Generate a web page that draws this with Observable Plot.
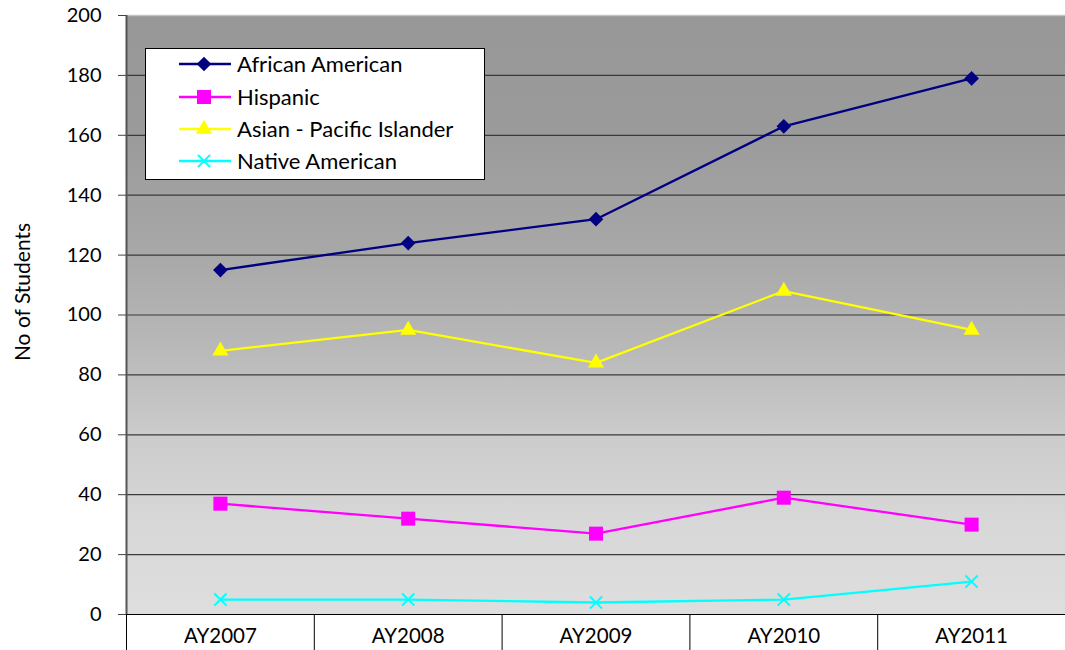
<!DOCTYPE html>
<html>
<head>
<meta charset="utf-8">
<script src="https://cdn.jsdelivr.net/npm/d3@7"></script>
<script src="https://cdn.jsdelivr.net/npm/@observablehq/plot@0.6"></script>
<style>
  body { margin: 0; background: #fff; font-family: Lato, "Open Sans", sans-serif; }
  #wrap { position: relative; width: 1065px; height: 650px; overflow: hidden; }
  #ylabel { position: absolute; left: 21px; top: 292px; width: 300px; text-align: center;
            transform: translate(-50%, -50%) rotate(-90deg); font-size: 21px; color: #000; line-height: 1; }
  #legend { position: absolute; left: 145px; top: 48px; width: 338px; height: 130px;
            background: #fff; border: 1px solid #000; }
  .row { position: absolute; left: 0; height: 24px; display: flex; align-items: center; }
  .row span { font-size: 22px; color: #000; line-height: 1; }
</style>
</head>
<body>
<div id="wrap"></div>
<script>
const categories = ["AY2007", "AY2008", "AY2009", "AY2010", "AY2011"];
const seriesNames = ["African American", "Hispanic", "Asian - Pacific Islander", "Native American"];
const africanAmerican = [115, 124, 132, 163, 179];
const hispanic = [37, 32, 27, 39, 30];
const asianPacific = [88, 95, 84, 108, 95];
const nativeAmerican = [5, 5, 4, 5, 11];
const yTicks = [0, 20, 40, 60, 80, 100, 120, 140, 160, 180, 200];
const yLabel = "No of Students";

const seriesValues = [africanAmerican, hispanic, asianPacific, nativeAmerican];
const colors = ["#000080", "#FF00FF", "#FFFF00", "#00FFFF"];
const symbols = ["diamond2", "square", "triangle", "times"];
const radii = [6.6, 7.9, 6.0, 5.6];

const data = [];
seriesValues.forEach((vals, s) => vals.forEach((v, i) => data.push({series: seriesNames[s], s, i, value: v})));

const bounds = categories.map((_, i) => i - 0.5).concat([categories.length - 0.5]);

const marks = [
  Plot.frame({fill: "url(#bg)", stroke: null}),
  Plot.ruleY(yTicks.filter(t => t > 0 && t < 200), {stroke: "#3a3a3a", strokeWidth: 1.2}),
  Plot.ruleY([200], {stroke: "#c4c4c4", strokeWidth: 1.5}),
  Plot.ruleX(bounds, {y1: 0, y2: -12, stroke: "#000", strokeWidth: 1}),
  Plot.ruleY([0], {stroke: "#000", strokeWidth: 1.2}),
  Plot.ruleX([-0.5], {stroke: "#555", strokeWidth: 2}),
  Plot.axisY({ticks: yTicks, tickSize: 8, tickPadding: 17, label: null, fontSize: 20, stroke: "#444", fill: "#000"}),
  Plot.axisX({ticks: categories.map((_, i) => i), tickFormat: i => categories[i], tickSize: 0, tickPadding: 14, label: null, fontSize: 20.5, fill: "#000"})
];
seriesNames.forEach((name, s) => {
  const d = data.filter(r => r.s === s);
  marks.push(Plot.line(d, {x: "i", y: "value", stroke: colors[s], strokeWidth: 2.3}));
  if (symbols[s] === "times") {
    marks.push(Plot.dot(d, {x: "i", y: "value", symbol: "times", r: radii[s], stroke: colors[s], strokeWidth: 2, fill: "none"}));
  } else {
    marks.push(Plot.dot(d, {x: "i", y: "value", symbol: symbols[s], r: radii[s], fill: colors[s], stroke: "none"}));
  }
});

const svg = Plot.plot({
  width: 1065,
  height: 650,
  marginLeft: 126,
  marginRight: 0,
  marginTop: 15,
  marginBottom: 36,
  style: {fontFamily: "Lato, 'Open Sans', sans-serif", background: "#fff", overflow: "visible"},
  x: {type: "linear", domain: [-0.5, categories.length - 0.5], axis: null},
  y: {domain: [0, 200], axis: null},
  marks
});

d3.select(svg).insert("defs", ":first-child").html(`
  <linearGradient id="bg" x1="0" y1="0" x2="0" y2="1">
    <stop offset="0%" stop-color="#979797"/>
    <stop offset="20%" stop-color="#9b9b9b"/>
    <stop offset="40%" stop-color="#a8a8a8"/>
    <stop offset="55%" stop-color="#b8b8b8"/>
    <stop offset="70%" stop-color="#cbcbcb"/>
    <stop offset="85%" stop-color="#d8d8d8"/>
    <stop offset="100%" stop-color="#dedede"/>
  </linearGradient>`);

const wrap = document.getElementById("wrap");
wrap.appendChild(svg);

const yl = document.createElement("div");
yl.id = "ylabel";
yl.textContent = yLabel;
wrap.appendChild(yl);

const legend = document.createElement("div");
legend.id = "legend";
wrap.appendChild(legend);
const rowCenters = [15, 47.5, 79.5, 112];
seriesNames.forEach((name, s) => {
  const row = document.createElement("div");
  row.className = "row";
  row.style.top = (rowCenters[s] - 12) + "px";
  const sw = d3.create("svg").attr("width", 91).attr("height", 24);
  sw.append("line").attr("x1", 33).attr("x2", 85).attr("y1", 12).attr("y2", 12)
    .attr("stroke", colors[s]).attr("stroke-width", 2.3);
  const symMap = {diamond2: d3.symbolDiamond2, square: d3.symbolSquare, triangle: d3.symbolTriangle, times: d3.symbolTimes};
  const path = sw.append("path").attr("transform", "translate(58,12)")
    .attr("d", d3.symbol(symMap[symbols[s]], Math.PI * radii[s] * radii[s])());
  if (symbols[s] === "times") path.attr("stroke", colors[s]).attr("stroke-width", 2).attr("fill", "none");
  else path.attr("fill", colors[s]);
  row.appendChild(sw.node());
  const t = document.createElement("span");
  t.textContent = name;
  row.appendChild(t);
  legend.appendChild(row);
});
</script>
</body>
</html>
